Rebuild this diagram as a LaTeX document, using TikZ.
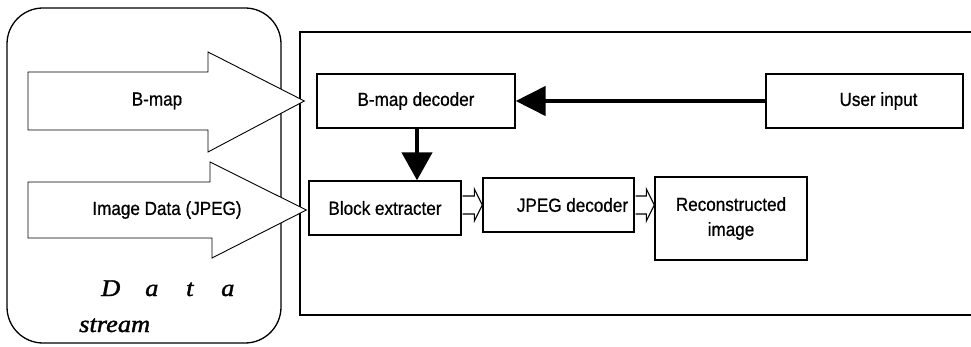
\documentclass[tikz,border=0pt]{standalone}
\usepackage{fontspec}
\setmainfont{Liberation Sans}[FakeStretch=0.9,FakeBold=0.7]
\newfontfamily\dsfont{Liberation Serif}[FakeStretch=1.1,FakeBold=1.6]
\usetikzlibrary{arrows.meta,calc}
\begin{document}
\begin{tikzpicture}[x=1pt,y=-1pt,
  every node/.style={font=\fontsize{19}{22}\selectfont},
  blockbox/.style={draw,line width=1.3pt,inner sep=0pt},
  bigarrow/.style={draw,line width=0.9pt,fill=white,line join=miter},
  hollow/.style={draw,line width=1.1pt,fill=white},
  thick arrow/.style={line width=4.5pt}]
\useasboundingbox (0,0) rectangle (971,347);
% data stream container
\draw[line width=1.3pt,rounded corners=36pt] (7,8) rectangle (281,343);
% right frame (open to the right)
\draw[line width=1.4pt] (971,32) -- (300,32) -- (300,315) -- (971,315);
% blocks
\node[blockbox,minimum width=198pt,minimum height=54pt] (bmd) at (416,101) {B-map decoder};
\node[blockbox,minimum width=197pt,minimum height=54pt] (user) at (864.5,101) {\hspace*{28pt}User input};
\node[blockbox,minimum width=152pt,minimum height=54pt] (blk) at (385,208) {Block extracter};
\node[blockbox,minimum width=151pt,minimum height=54pt] (jpg) at (558.5,205) {\hspace*{28pt}JPEG decoder};
\node[blockbox,minimum width=152pt,minimum height=83pt,align=center] (rec) at (731,218.5) {\raisebox{-12pt}{\parbox{140pt}{\centering Reconstructed\\[3pt] image}}};
% big input arrows
\coordinate (tipA) at ($(bmd.west)+(-12,0)$);
\coordinate (tipB) at ($(blk.west)+(-2,2)$);
\draw[bigarrow] (28,72) -- (208,72) -- (208,52) -- (tipA) -- (208,152) -- (208,130) -- (28,130) -- cycle;
\draw[bigarrow] (28,182) -- (210,182) -- (210,162) -- (tipB) -- (212,258) -- (212,238) -- (28,238) -- cycle;
\node (lbA) at (157,101) {B-map};
\node (lbB) at (167,210) {Image Data (JPEG)};
% Data stream label
\node[anchor=base west,inner sep=0pt,font=\dsfont\itshape\fontsize{24}{30}\selectfont] (dlab) at (101,296) {\makebox[44pt][l]{D}\makebox[41pt][l]{a}\makebox[35pt][l]{t}a};
\node[anchor=base west,inner sep=0pt,font=\dsfont\itshape\fontsize{24}{30}\selectfont] (slab) at (79,332) {stream};
% thick black arrows
\draw[thick arrow,-{Triangle[length=30pt,width=29pt]}] (user.west) -- (bmd.east);
\draw[thick arrow,-{Triangle[length=28pt,width=30pt]}] ($(bmd.south)+(1,0)$) -- ($(bmd.south |- blk.north)+(1,0)$);
% hollow small arrows
\draw[hollow] ($(blk.east |- jpg.west)+(1,-9)$) -- ($(jpg.west)+(-8,-9)$) -- ($(jpg.west)+(-8,-16)$) -- (jpg.west) -- ($(jpg.west)+(-8,16)$) -- ($(jpg.west)+(-8,9)$) -- ($(blk.east |- jpg.west)+(1,9)$);
\coordinate (recin) at (rec.west |- jpg.east);
\draw[hollow] ($(jpg.east)+(1,-9)$) -- ($(recin)+(-8,-9)$) -- ($(recin)+(-8,-16)$) -- (recin) -- ($(recin)+(-8,16)$) -- ($(recin)+(-8,9)$) -- ($(jpg.east)+(1,9)$);
\end{tikzpicture}
\end{document}
